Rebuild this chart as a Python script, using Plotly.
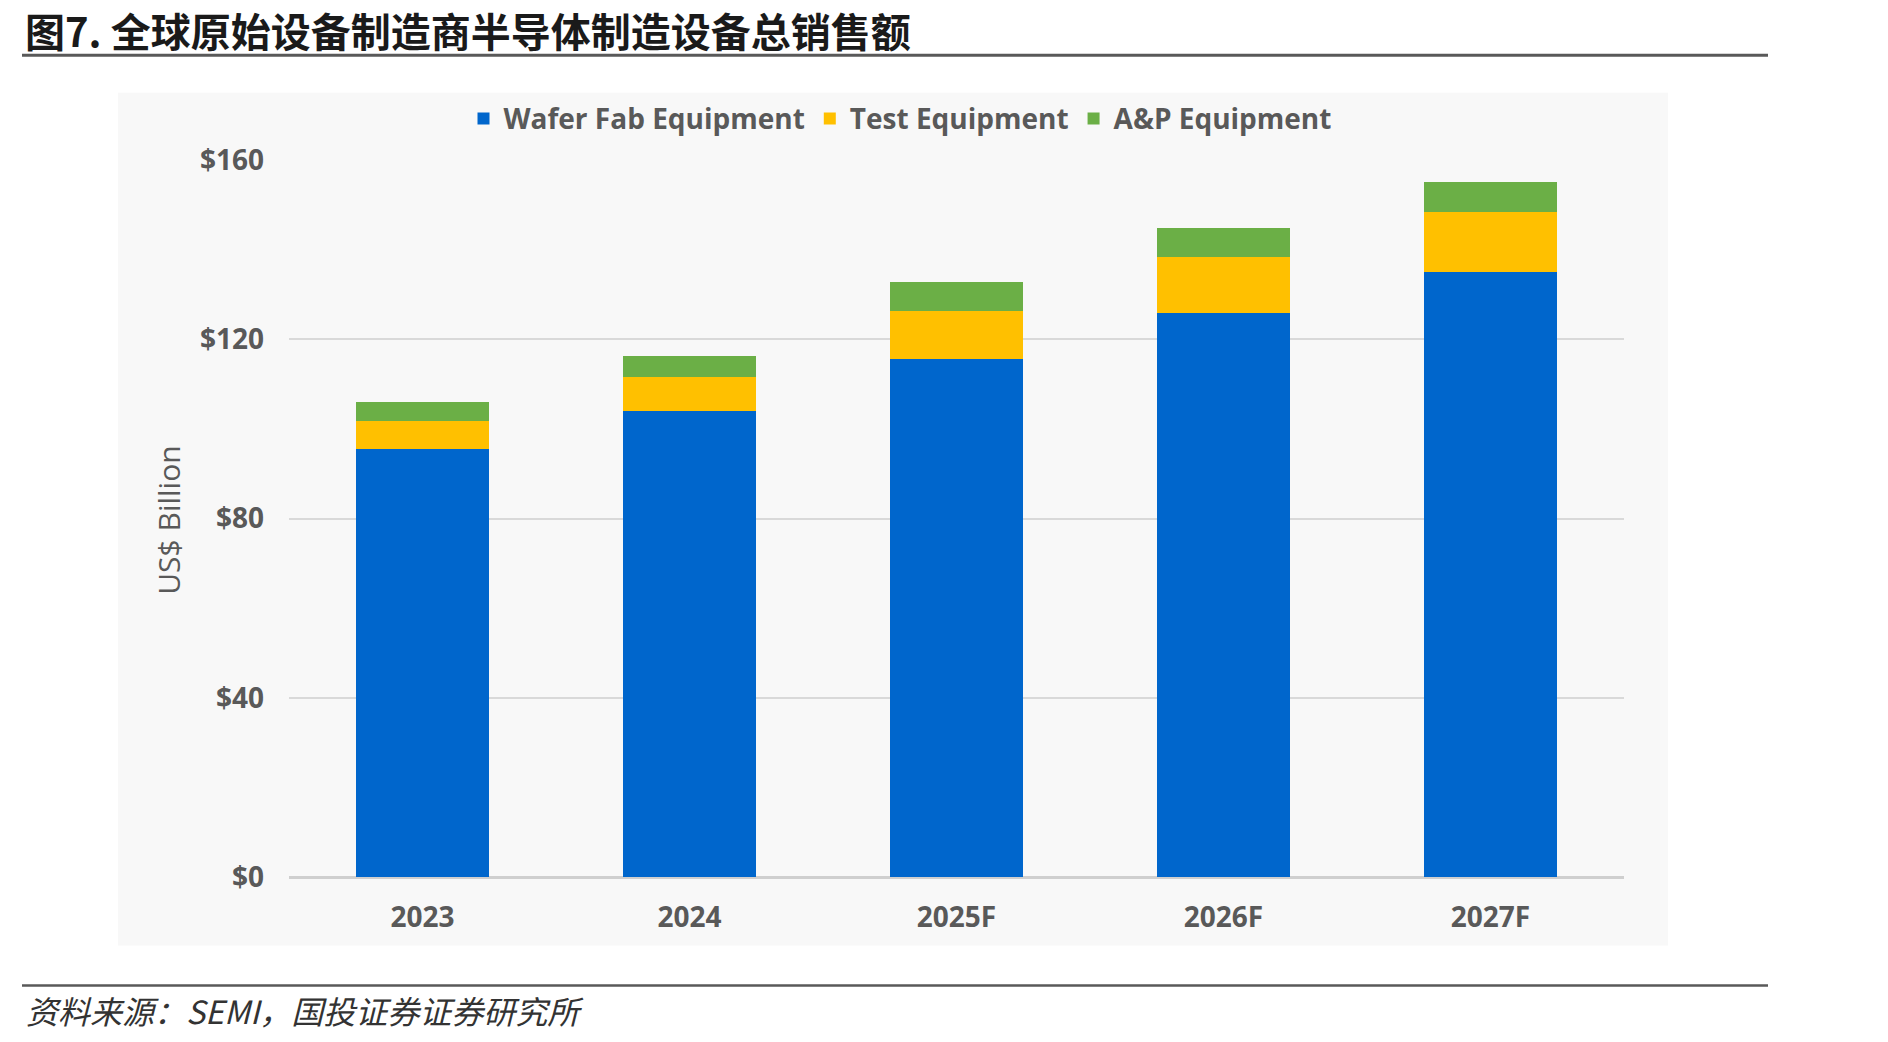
import plotly.graph_objects as go

# ---- data ----
categories = ["2023", "2024", "2025F", "2026F", "2027F"]
wafer_fab = [95.6, 104.0, 115.5, 125.8, 134.9]
test_eq = [6.1, 7.6, 10.9, 12.5, 13.4]
ap_eq = [4.2, 4.7, 6.3, 6.6, 6.9]
series_names = ["Wafer Fab Equipment", "Test Equipment", "A&P Equipment"]
y_tickvals = [0, 40, 80, 120, 160]
y_ticktext = ["$0", "$40", "$80", "$120", "$160"]

title_text = "图7. 全球原始设备制造商半导体制造设备总销售额"
source_text = "资料来源：SEMI，国投证券证券研究所"
y_title = "US$ Billion"

# ---- geometry (pixels) ----
W, H = 1888, 1042
L, R, T, B = 289, 1624, 160.1, 876.6


def px(x):
    return (x - L) / (R - L)


def py(y):
    return (B - y) / (B - T)


colors = ["#0066CC", "#FFC000", "#6BAF46"]
tick_color = "#595959"

fig = go.Figure()
for name, vals, c in zip(series_names, [wafer_fab, test_eq, ap_eq], colors):
    fig.add_trace(go.Bar(x=categories, y=vals, name=name, marker=dict(color=c, line=dict(width=0))))

fig.update_layout(
    width=W, height=H,
    margin=dict(l=L, r=W - R, t=T, b=H - B, autoexpand=False),
    barmode="stack", bargap=0.5,
    paper_bgcolor="white", plot_bgcolor="rgba(0,0,0,0)",
    font=dict(family="Open Sans", color=tick_color),
    showlegend=True,
    legend=dict(orientation="h", x=px(900), xanchor="center", y=py(119), yanchor="middle",
                bgcolor="rgba(0,0,0,0)", traceorder="normal",
                font=dict(family="Open Sans", size=28, color=tick_color, weight=700),
                itemwidth=30),
    xaxis=dict(showgrid=False, showline=False, ticks="", ticklabelstandoff=21,
               tickfont=dict(family="Open Sans", size=28, color=tick_color, weight=700)),
    yaxis=dict(range=[0, 160], tickvals=y_tickvals, ticktext=y_ticktext,
               showgrid=True, gridcolor="#d9d9d9", gridwidth=1.5,
               zeroline=True, zerolinecolor="#cfcfcf", zerolinewidth=2.5,
               showline=False, ticks="", ticklabelstandoff=24,
               tickfont=dict(family="Open Sans", size=28, color=tick_color, weight=700)),
    shapes=[
        dict(type="rect", xref="paper", yref="paper", x0=px(118), x1=px(1668), y0=py(945), y1=py(93),
             fillcolor="#f8f8f8", line=dict(width=0), layer="below"),
        dict(type="line", xref="paper", yref="paper", x0=px(22), x1=px(1768), y0=py(55.5), y1=py(55.5),
             line=dict(color="#595959", width=3)),
        dict(type="line", xref="paper", yref="paper", x0=px(22), x1=px(1768), y0=py(985), y1=py(985),
             line=dict(color="#595959", width=2.5)),
    ],
    annotations=[
        dict(text="<b>" + title_text + "</b>", xref="paper", yref="paper", x=px(24), y=py(0),
             xanchor="left", yanchor="top", showarrow=False, borderpad=0,
             font=dict(family="Noto Sans CJK SC", size=40, color="#1a1a1a")),
        dict(text="<i>" + source_text + "</i>", xref="paper", yref="paper", x=px(24), y=py(1010),
             xanchor="left", yanchor="middle", showarrow=False,
             font=dict(family="Noto Sans CJK SC", size=32, color="#333333")),
        dict(text=y_title, xref="paper", yref="paper", x=px(168.6), y=py(520),
             xanchor="center", yanchor="middle", showarrow=False, textangle=-90,
             font=dict(family="Open Sans", size=30, color=tick_color)),
    ],
)

fig.write_html("out.html")
